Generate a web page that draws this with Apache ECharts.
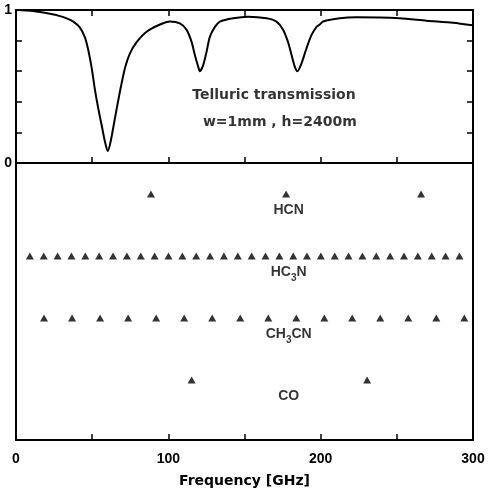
<!DOCTYPE html>
<html>
<head>
<meta charset="utf-8">
<script src="https://cdn.jsdelivr.net/npm/echarts@6/dist/echarts.min.js"></script>
<style>
  html, body { margin: 0; padding: 0; background: #fff; }
  #chart { width: 489px; height: 497px; }
</style>
</head>
<body>
<div id="chart"></div>
<script>
// ---- Data ----
// Telluric transmission curve (frequency in GHz, transmission 0..1)
const transFreq = [0, 11.2, 22.3, 28.9, 33.3, 37.6, 42.0, 45.3, 47.4, 49.7, 51.8, 54.0, 56.2, 58.4, 60.2, 62.1, 64.9, 68.2, 71.5, 74.8, 79.2, 85.7, 94.5, 101.0, 107.6, 112.0, 115.3, 117.4, 119.6, 120.7, 122.9, 125.1, 127.3, 130.6, 133.8, 142.6, 152.4, 164.5, 171.0, 175.4, 178.6, 180.9, 183.0, 184.8, 187.4, 190.7, 194.0, 197.3, 199.4, 201.6, 212.6, 223.5, 251.9, 269.4, 286.9, 300];
const transValue = [1.0, 0.993, 0.975, 0.96, 0.945, 0.924, 0.885, 0.82, 0.74, 0.62, 0.48, 0.357, 0.248, 0.139, 0.078, 0.139, 0.29, 0.466, 0.62, 0.717, 0.79, 0.858, 0.905, 0.925, 0.913, 0.87, 0.79, 0.706, 0.63, 0.60, 0.64, 0.727, 0.826, 0.89, 0.924, 0.946, 0.956, 0.946, 0.924, 0.87, 0.79, 0.706, 0.63, 0.60, 0.65, 0.75, 0.837, 0.89, 0.905, 0.925, 0.946, 0.952, 0.946, 0.93, 0.917, 0.90];

// Molecular line frequencies (GHz)
const hcnLines = [88.6, 177.3, 265.9];
const hc3nLines = [9.1, 18.2, 27.3, 36.4, 45.5, 54.6, 63.7, 72.8, 81.9, 91.0, 100.1, 109.2, 118.3, 127.4, 136.5, 145.6, 154.7, 163.8, 172.9, 182.0, 191.0, 200.1, 209.2, 218.3, 227.4, 236.5, 245.6, 254.7, 263.8, 272.9, 282.0, 291.1];
const ch3cnLines = [18.4, 36.8, 55.2, 73.6, 92.0, 110.4, 128.8, 147.2, 165.6, 184.0, 202.4, 220.7, 239.1, 257.5, 275.9, 294.3];
const coLines = [115.3, 230.5];

const molecules = ['HCN', 'HC3N', 'CH3CN', 'CO'];
const moleculeLabels = ['{a|HCN}', '{a|HC}{s|3}{a|N}', '{a|CH}{s|3}{a|CN}', '{a|CO}'];
const xTickLabels = ['0', '100', '200', '300'];
const yTickLabels = ['0', '1'];
const annotation = ['Telluric transmission', 'w=1mm , h=2400m'];

// ---- Layout helpers ----
const rowLevel = [0.5, 1.5, 2.5, 3.5];   // vertical slot for each molecule row
const labelFreq = 179;                   // where the molecule names sit
const labelDrop = 0.25;
const FONT = "'Liberation Sans', Arial, sans-serif";
const WIDE = "'DejaVu Sans', sans-serif";

const chart = echarts.init(document.getElementById('chart'), null, { renderer: 'canvas' });

const axisLineStyle = { color: '#000', width: 2 };
const tickStyle = { show: true, inside: true, length: 6, lineStyle: { color: '#000', width: 1.5 } };
const textBold = { color: '#000', fontFamily: FONT, fontWeight: 'bold', fontSize: 14 };

const lineRows = [hcnLines, hc3nLines, ch3cnLines, coLines];
const scatterSeries = lineRows.map((arr, i) => ({
  type: 'scatter',
  name: molecules[i],
  xAxisIndex: 2,
  yAxisIndex: 2,
  symbol: 'triangle',
  symbolSize: [8, 7],
  itemStyle: { color: '#000' },
  silent: true,
  data: arr.map(f => [f, rowLevel[i]])
}));

const labelSeries = {
  type: 'scatter',
  xAxisIndex: 2,
  yAxisIndex: 2,
  symbolSize: 0,
  silent: true,
  data: molecules.map((m, i) => ({
    value: [labelFreq, rowLevel[i] + labelDrop],
    label: {
      show: true,
      position: 'inside',
      formatter: moleculeLabels[i],
      rich: {
        a: { fontFamily: FONT, fontWeight: 'bold', fontSize: 14, color: '#000', lineHeight: 16, verticalAlign: 'bottom' },
        s: { fontFamily: FONT, fontWeight: 'bold', fontSize: 10, color: '#000', lineHeight: 10, verticalAlign: 'bottom', padding: [0, 0, -4, 0] }
      }
    }
  }))
};

const annLabel = (txt) => ({ show: true, position: 'inside', formatter: txt, fontFamily: WIDE, fontWeight: 'bold', fontSize: 14, color: '#000' });

const option = {
  animation: false,
  backgroundColor: '#fff',
  grid: [
    { left: 16, top: 10, width: 457, height: 153 },
    { left: 16, top: 163, width: 457, height: 277 }
  ],
  xAxis: [
    { // top panel bottom axis
      gridIndex: 0, type: 'value', min: 0, max: 300, interval: 50, position: 'bottom',
      axisLine: { onZero: false, lineStyle: axisLineStyle },
      axisTick: tickStyle,
      axisLabel: { show: false }, splitLine: { show: false }
    },
    { // top panel top axis
      gridIndex: 0, type: 'value', min: 0, max: 300, interval: 50, position: 'top',
      axisLine: { onZero: false, lineStyle: axisLineStyle },
      axisTick: tickStyle,
      axisLabel: { show: false }, splitLine: { show: false }
    },
    { // bottom panel axis
      gridIndex: 1, type: 'value', min: 0, max: 300, interval: 50, position: 'bottom',
      axisLine: { onZero: false, lineStyle: axisLineStyle },
      axisTick: tickStyle,
      axisLabel: Object.assign({
        margin: 12,
        formatter: v => (v % 100 === 0 ? xTickLabels[v / 100] : '')
      }, textBold),
      name: 'Frequency [GHz]', nameLocation: 'middle', nameGap: 34,
      nameTextStyle: { color: '#000', fontFamily: WIDE, fontWeight: 'bold', fontSize: 14 },
      splitLine: { show: false }
    }
  ],
  yAxis: [
    { gridIndex: 0, type: 'value', min: 0, max: 1, interval: 0.2, position: 'left',
      axisLine: { show: true, onZero: false, lineStyle: axisLineStyle },
      axisTick: tickStyle,
      axisLabel: Object.assign({
        margin: 4,
        formatter: v => (v === 0 ? yTickLabels[0] : (v === 1 ? yTickLabels[1] : ''))
      }, textBold),
      splitLine: { show: false }
    },
    { gridIndex: 0, type: 'value', min: 0, max: 1, interval: 0.2, position: 'right',
      axisLine: { show: true, onZero: false, lineStyle: axisLineStyle },
      axisTick: tickStyle,
      axisLabel: { show: false }, splitLine: { show: false }
    },
    { gridIndex: 1, type: 'value', min: 0, max: 4.47, inverse: true, position: 'left',
      axisLine: { show: true, onZero: false, lineStyle: axisLineStyle },
      axisTick: { show: false }, axisLabel: { show: false }, splitLine: { show: false }
    },
    { gridIndex: 1, type: 'value', min: 0, max: 4.47, inverse: true, position: 'right',
      axisLine: { show: true, onZero: false, lineStyle: axisLineStyle },
      axisTick: { show: false }, axisLabel: { show: false }, splitLine: { show: false }
    }
  ],
  series: [
    {
      type: 'line',
      xAxisIndex: 0, yAxisIndex: 0,
      data: transFreq.map((f, i) => [f, transValue[i]]),
      smooth: 0.25,
      showSymbol: false,
      lineStyle: { color: '#000', width: 2 },
      silent: true
    },
    {
      type: 'scatter', xAxisIndex: 0, yAxisIndex: 0, symbolSize: 0, silent: true,
      data: [
        { value: [169.3, 0.444], label: annLabel(annotation[0]) },
        { value: [173.2, 0.263], label: annLabel(annotation[1]) }
      ]
    },
    ...scatterSeries,
    labelSeries
  ]
};

chart.setOption(option);
</script>
</body>
</html>
